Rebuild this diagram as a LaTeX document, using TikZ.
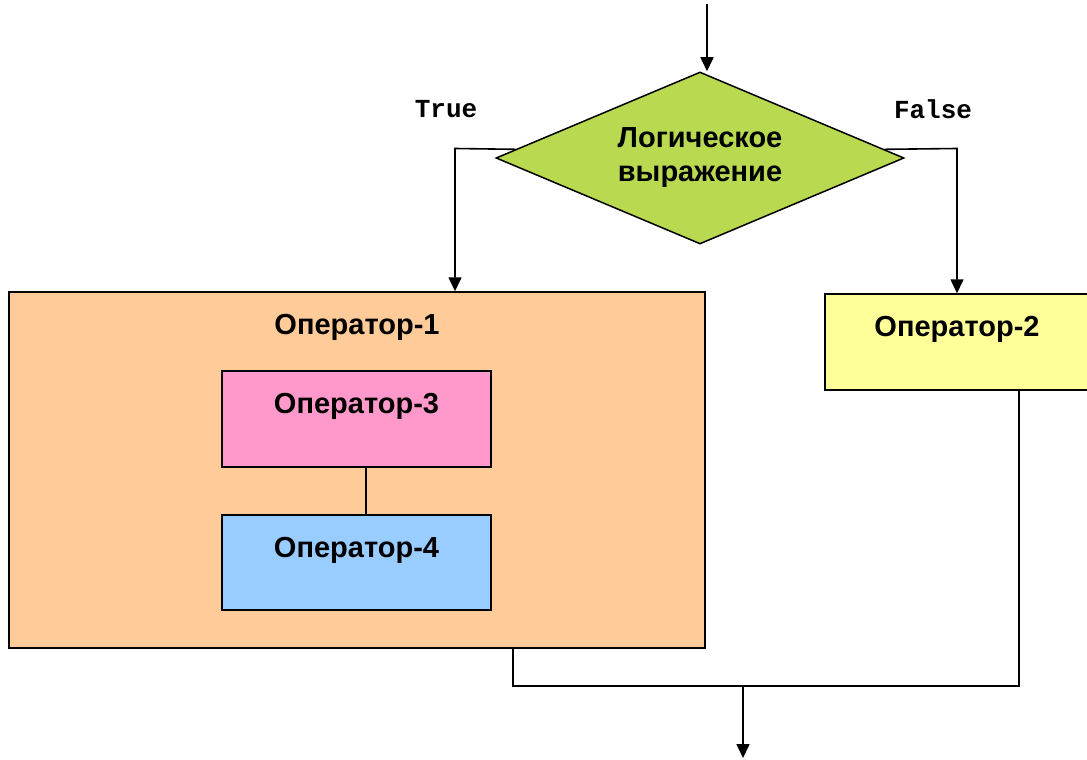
\documentclass[tikz,border=0pt]{standalone}
\usepackage{fontspec}
\setmainfont{Liberation Sans}
\newfontfamily\monofont{Liberation Mono}
\usetikzlibrary{shapes.geometric,arrows.meta,calc}
\definecolor{cgreen}{RGB}{184,217,80}
\definecolor{cpeach}{RGB}{255,204,153}
\definecolor{cpink}{RGB}{255,153,204}
\definecolor{cblue}{RGB}{153,204,255}
\definecolor{cyellow}{RGB}{255,255,153}
\begin{document}
\begin{tikzpicture}[x=1pt,y=-1pt,
  box/.style={draw=black,line width=1.5pt,rectangle,inner sep=0pt},
  lbl/.style={font=\bfseries\fontsize{29}{34}\selectfont},
  conn/.style={line width=1.6pt},
  arr/.style={conn,-{Triangle[length=14pt,width=13pt]}},
  tf/.style={font=\monofont\bfseries\fontsize{26}{30}\selectfont}]
\useasboundingbox (0,0) rectangle (1087,760);
\fill[white] (0,0) rectangle (1087,760);
% nodes
\node[draw=black,line width=1.5pt,fill=cgreen,shape=diamond,aspect=2.4,inner sep=0pt,
  minimum width=408pt,minimum height=172pt,align=center,
  font=\bfseries\fontsize{29}{34}\selectfont] (d) at (700,158) {Логическое\\выражение};
\node[box,fill=cpeach,minimum width=696pt,minimum height=356pt,
  label={[lbl,anchor=north,yshift=-19pt]north:Оператор-1}] (o1) at (357,470) {};
\node[box,fill=cpink,minimum width=269pt,minimum height=96pt,
  label={[lbl,anchor=north,yshift=-19pt]north:Оператор-3}] (o3) at (356.5,419) {};
\node[box,fill=cblue,minimum width=269pt,minimum height=95pt,
  label={[lbl,anchor=north,yshift=-19pt]north:Оператор-4}] (o4) at (356.5,562.5) {};
\node[box,fill=cyellow,minimum width=264pt,minimum height=96pt,
  label={[lbl,anchor=north,yshift=-19pt]north:Оператор-2}] (o2) at (957,342) {};
\node[tf] (t) at (446,109) {True};
\node[tf] (f) at (933,109) {False};
% coordinates
\coordinate (start) at (707,4);
\coordinate (tl) at (455,148.5);
\coordinate (fr) at (957,148.5);
\coordinate (m) at (366,0);
\coordinate (j1) at (513,686);
\coordinate (j2) at (1019,686);
\coordinate (jm) at (743,686);
\coordinate (end) at (743,758);
% connectors
\draw[arr] (start) -- (start |- d.north);
\draw[arr] ($(d.west)!0.1!(d.north)$) -- (tl) -- (tl |- o1.north);
\draw[arr] ($(d.east)!0.1!(d.north)$) -- (fr) -- (fr |- o2.north);
\draw[line width=1.2pt] (m |- o3.south) -- (m |- o4.north);
\draw[conn] (j1 |- o1.south) -- (j1) -- (j2) -- (j2 |- o2.south);
\draw[arr] (jm) -- (end);
\end{tikzpicture}
\end{document}
